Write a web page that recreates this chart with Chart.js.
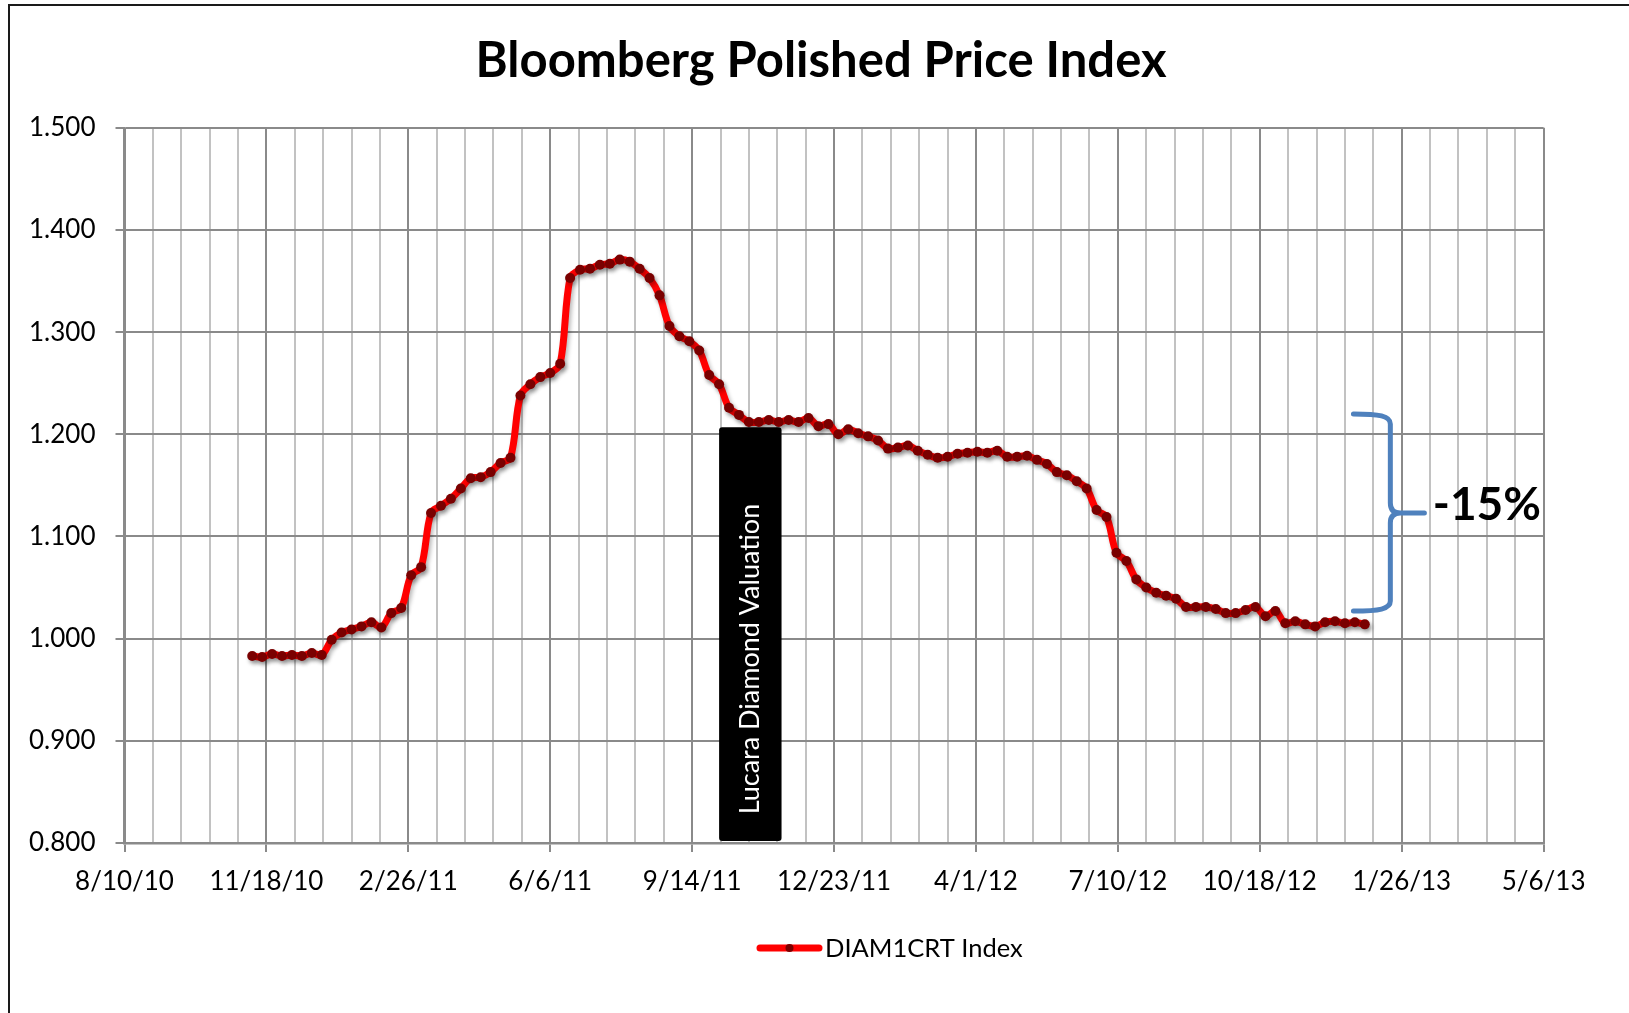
<!DOCTYPE html>
<html>
<head>
<meta charset="utf-8">
<title>Bloomberg Polished Price Index</title>
<script src="https://cdn.jsdelivr.net/npm/chart.js@4.4.1/dist/chart.umd.min.js"></script>
<style>
  html, body { margin: 0; padding: 0; background: #fff; }
  #wrap { width: 1629px; height: 1013px; }
</style>
</head>
<body>
<div id="wrap"><canvas id="priceChart" width="1629" height="1013"></canvas></div>
<script>
// x axis runs as a day counter from this date, majors every 100 days
const axisStart = '2010-08-10';
const axisEndDays = 1000;
const majorStepDays = 100;
const minorStepDays = 20;

// y axis
const yMin = 0.8;
const yMax = 1.5;
const yStep = 0.1;

// weekly DIAM1CRT Index readings, first one on 11/8/10
const seriesLabel = 'DIAM1CRT Index';
const firstObservation = '2010-11-08';
const observationStepDays = 7;
const indexValues = [
    0.983, 0.982, 0.985, 0.983, 0.984, 0.983, 0.986, 0.984, 0.999, 1.006,
    1.009, 1.012, 1.016, 1.011, 1.025, 1.030, 1.062, 1.070, 1.123, 1.130,
    1.137, 1.147, 1.157, 1.158, 1.163, 1.172, 1.177, 1.238, 1.249, 1.256,
    1.260, 1.269, 1.353, 1.361, 1.362, 1.366, 1.367, 1.371, 1.369, 1.362,
    1.353, 1.336, 1.306, 1.296, 1.291, 1.282, 1.258, 1.249, 1.226, 1.219,
    1.212, 1.212, 1.214, 1.212, 1.214, 1.212, 1.216, 1.208, 1.210, 1.200,
    1.205, 1.201, 1.198, 1.194, 1.186, 1.187, 1.189, 1.184, 1.180, 1.177,
    1.178, 1.181, 1.182, 1.183, 1.182, 1.184, 1.178, 1.178, 1.179, 1.175,
    1.171, 1.163, 1.160, 1.154, 1.147, 1.126, 1.119, 1.084, 1.076, 1.058,
    1.050, 1.045, 1.042, 1.039, 1.031, 1.031, 1.031, 1.029, 1.025, 1.025,
    1.028, 1.031, 1.022, 1.027, 1.015, 1.017, 1.014, 1.012, 1.016, 1.017,
    1.015, 1.016, 1.014
];

// annotations
const lucaraLabel = 'Lucara Diamond Valuation';
const lucaraSpan = ['2011-10-03', '2011-11-16'];
const lucaraTop = 1.207;
const changeLabel = '-15%';
const braceDates = ['2012-12-23', '2013-01-18', '2013-02-11', '2013-02-19'];
const braceLevels = [1.220, 1.123, 1.027];

const dayMs = 86400000;
const originMs = Date.parse(axisStart + 'T00:00:00Z');
const toDay = s => Math.round((Date.parse(s + 'T00:00:00Z') - originMs) / dayMs);
const fmtDay = d => {
    const t = new Date(originMs + d * dayMs);
    return (t.getUTCMonth() + 1) + '/' + t.getUTCDate() + '/' + String(t.getUTCFullYear()).slice(2);
};
const isMajor = ctx => ctx.tick && ctx.tick.value % majorStepDays === 0;

const firstDay = toDay(firstObservation);
const points = indexValues.map((v, i) => ({ x: firstDay + i * observationStepDays, y: v }));

const FONT = 'Lato';
const GRID_DARK = '#8a8a8a';
const GRID_LIGHT = '#c2c2c2';

const framePlugin = {
    id: 'frame',
    beforeDraw(chart) {
        const ctx = chart.ctx;
        ctx.save();
        ctx.fillStyle = '#fff';
        ctx.fillRect(0, 0, chart.width, chart.height);
        ctx.restore();
    },
    afterDraw(chart) {
        const ctx = chart.ctx;
        ctx.save();
        ctx.strokeStyle = '#1a1a1a';
        ctx.lineWidth = 2;
        ctx.strokeRect(9, 5, chart.width + 20, chart.height + 20);

        // legend
        const ds = chart.data.datasets[0];
        const ly = 948;
        ctx.strokeStyle = ds.borderColor;
        ctx.lineWidth = 7;
        ctx.lineCap = 'round';
        ctx.beginPath();
        ctx.moveTo(760, ly);
        ctx.lineTo(819, ly);
        ctx.stroke();
        ctx.fillStyle = ds.pointBackgroundColor;
        ctx.beginPath();
        ctx.arc(789.5, ly, 4, 0, Math.PI * 2);
        ctx.fill();
        ctx.fillStyle = '#000';
        ctx.font = '25.5px ' + FONT;
        ctx.textBaseline = 'middle';
        ctx.textAlign = 'left';
        ctx.fillText(ds.label, 825, ly + 1);
        ctx.restore();
    }
};

const shadowPlugin = {
    id: 'lineShadow',
    beforeDatasetDraw(chart) {
        const ctx = chart.ctx;
        ctx.save();
        ctx.shadowColor = 'rgba(0,0,0,0.28)';
        ctx.shadowBlur = 4;
        ctx.shadowOffsetX = 2;
        ctx.shadowOffsetY = 3;
    },
    afterDatasetDraw(chart) {
        chart.ctx.restore();
    }
};

const notesPlugin = {
    id: 'notes',
    beforeDatasetsDraw(chart) {
        const { ctx, scales: { x, y } } = chart;
        const left = x.getPixelForValue(toDay(lucaraSpan[0]));
        const right = x.getPixelForValue(toDay(lucaraSpan[1]));
        const top = y.getPixelForValue(lucaraTop);
        const bottom = y.getPixelForValue(yMin) - 2;
        ctx.save();
        ctx.fillStyle = '#000';
        ctx.beginPath();
        ctx.roundRect(left, top, right - left, bottom - top, 3);
        ctx.fill();
        ctx.translate((left + right) / 2, (top + bottom) / 2 + 25);
        ctx.rotate(-Math.PI / 2);
        ctx.fillStyle = '#fff';
        ctx.font = '27px ' + FONT;
        ctx.textAlign = 'center';
        ctx.textBaseline = 'middle';
        ctx.fillText(lucaraLabel, 0, 0);
        ctx.restore();
    },
    afterDatasetsDraw(chart) {
        const { ctx, scales: { x, y } } = chart;
        const [x0, x1, x2, x3] = braceDates.map(d => x.getPixelForValue(toDay(d)));
        const [yT, yM, yB] = braceLevels.map(v => y.getPixelForValue(v));
        const r = 10;
        ctx.save();
        ctx.strokeStyle = '#4f81bd';
        ctx.lineWidth = 5;
        ctx.lineCap = 'round';
        ctx.lineJoin = 'round';
        ctx.beginPath();
        ctx.moveTo(x0, yT);
        ctx.bezierCurveTo(x0 + (x1 - x0) * 0.7, yT, x1, yT + 2, x1, yT + r);
        ctx.lineTo(x1, yM - r);
        ctx.quadraticCurveTo(x1, yM, x1 + r, yM);
        ctx.lineTo(x2, yM);
        ctx.moveTo(x1 + r, yM);
        ctx.quadraticCurveTo(x1, yM, x1, yM + r);
        ctx.lineTo(x1, yB - r);
        ctx.bezierCurveTo(x1, yB - 2, x0 + (x1 - x0) * 0.7, yB, x0, yB);
        ctx.stroke();
        ctx.fillStyle = '#000';
        ctx.font = 'bold 46px ' + FONT;
        ctx.textAlign = 'left';
        ctx.textBaseline = 'middle';
        ctx.fillText(changeLabel, x3 - 3, yM - 8);
        ctx.restore();
    }
};

new Chart(document.getElementById('priceChart'), {
    type: 'line',
    data: {
        datasets: [{
            label: seriesLabel,
            data: points,
            borderColor: '#ff0000',
            borderWidth: 7,
            tension: 0.35,
            borderJoinStyle: 'round',
            borderCapStyle: 'round',
            pointRadius: 5,
            pointBorderWidth: 0,
            pointBackgroundColor: '#7a0000',
            pointBorderColor: '#7a0000',
            fill: false
        }]
    },
    options: {
        responsive: false,
        animation: false,
        devicePixelRatio: 1,
        layout: { padding: { left: 13, right: 0, top: 10, bottom: 0 } },
        plugins: {
            title: {
                display: true,
                text: 'Bloomberg Polished Price Index',
                color: '#000',
                font: { family: FONT, size: 49, weight: 'bold' },
                padding: { top: 22, bottom: 37 }
            },
            legend: { display: false },
            tooltip: { enabled: false }
        },
        scales: {
            x: {
                type: 'linear',
                position: 'bottom',
                min: 0,
                max: axisEndDays,
                afterFit: s => { s.height = 170; },
                ticks: {
                    stepSize: minorStepDays,
                    autoSkip: false,
                    maxRotation: 0,
                    padding: 14,
                    color: '#000',
                    font: { family: FONT, size: 26 },
                    callback: v => (v % majorStepDays === 0 ? fmtDay(v) : '')
                },
                grid: {
                    color: ctx => (isMajor(ctx) ? GRID_DARK : GRID_LIGHT),
                    lineWidth: 2,
                    tickLength: 9,
                    tickColor: ctx => (isMajor(ctx) ? GRID_DARK : 'rgba(0,0,0,0)')
                },
                border: { color: GRID_DARK, width: 2.5 }
            },
            y: {
                min: yMin,
                max: yMax,
                afterFit: s => { s.width = 111.5; },
                ticks: {
                    stepSize: yStep,
                    padding: 20,
                    color: '#000',
                    font: { family: FONT, size: 26 },
                    callback: v => v.toFixed(3)
                },
                grid: { color: GRID_DARK, lineWidth: 2, tickLength: 9 },
                border: { color: GRID_DARK, width: 2.5 }
            },
            yRight: {
                position: 'right',
                afterFit: s => { s.width = 85.4; },
                grid: { display: false },
                ticks: { display: false },
                border: { display: false }
            }
        }
    },
    plugins: [framePlugin, shadowPlugin, notesPlugin]
});
</script>
</body>
</html>
